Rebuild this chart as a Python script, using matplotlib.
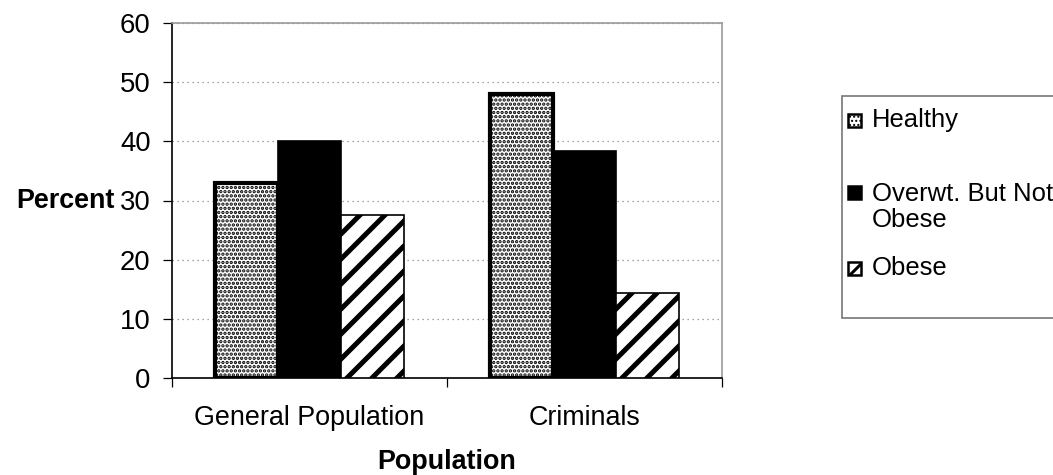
import matplotlib
matplotlib.use("Agg")
import matplotlib.pyplot as plt
from matplotlib.patches import Rectangle
import numpy as np

plt.rcParams['font.family'] = ['Liberation Sans', 'DejaVu Sans']

groups = ['General Population', 'Criminals']
series = ['Healthy', 'Overwt. But Not\nObese', 'Obese']
healthy = [33, 48]
overweight = [40, 38.3]
obese = [27.5, 14.3]
yticks = [0, 10, 20, 30, 40, 50, 60]

values = [healthy, overweight, obese]
hatches = ['......', None, '//']
faces = ['white', 'black', 'white']
edge_lw = [2.0, 0.8, 0.8]
hatch_lw = [1.1, 1.0, 2.4]

fig = plt.figure(figsize=(1053 / 150, 475 / 150), dpi=150)
ax = fig.add_axes([172 / 1053, 1 - 378 / 475, 550 / 1053, 355 / 475])

x = np.arange(len(groups))
w = 0.228
for i, vals in enumerate(values):
    plt.rcParams['hatch.linewidth'] = hatch_lw[i]
    bars = ax.bar(x + (i - 1) * w, vals, w, color=faces[i], edgecolor='black',
                  linewidth=edge_lw[i], hatch=hatches[i], zorder=3)
    for b in bars:
        if hasattr(b, 'set_hatch_linewidth'):
            b.set_hatch_linewidth(hatch_lw[i])

ax.set_xlim(-0.5, 1.5)
ax.set_ylim(0, 60)
ax.set_yticks(yticks)
ax.yaxis.grid(True, linestyle=(0, (1, 3)), color='#888888', linewidth=0.6)
ax.set_axisbelow(True)

# ticks at group boundaries, labels centred under groups
ax.set_xticks([-0.5, 0.5, 1.5])
ax.set_xticklabels([])
ax.set_xticks(x, minor=True)
ax.set_xticklabels(groups, minor=True, fontsize=12.9)
ax.tick_params(axis='x', which='minor', length=0, pad=13)
ax.tick_params(axis='x', which='major', direction='out', length=4.3, width=0.6)
ax.tick_params(axis='y', direction='out', length=4.3, width=0.6, pad=6, labelsize=13.2)

for s in ['top', 'right']:
    ax.spines[s].set_color('#999999')
    ax.spines[s].set_linewidth(0.8)
for s in ['left', 'bottom']:
    ax.spines[s].set_color('black')
    ax.spines[s].set_linewidth(0.8)

ax.set_ylabel('Percent', rotation=0, fontsize=12.9, fontweight='bold', ha='right', va='center')
ax.yaxis.set_label_coords(-0.104, 0.5)
ax.set_xlabel('Population', fontsize=12.9, fontweight='bold', va='center')
ax.xaxis.set_label_coords(0.5, -0.237)

# legend box, drawn by hand so the two-line entry matches the original
fw, fh = 1053, 475
fig.patches.append(Rectangle((842 / fw, 1 - 318 / fh), 1.0, 222 / fh, transform=fig.transFigure,
                             facecolor='white', edgecolor='#777777', linewidth=0.8))
rows = [120, 193, 268]
for i, yc in enumerate(rows):
    plt.rcParams['hatch.linewidth'] = hatch_lw[i] * 0.6
    h = Rectangle((848 / fw, 1 - (yc + 6.5) / fh), 13 / fw, 13 / fh, transform=fig.transFigure,
                  facecolor=faces[i], edgecolor='black', linewidth=1.2, hatch=hatches[i])
    fig.patches.append(h)
    if '\n' in series[i]:
        fig.text(872 / fw, 1 - (yc - 11) / fh, series[i], fontsize=12.3, va='top', ha='left',
                 linespacing=1.08)
    else:
        fig.text(872 / fw, 1 - yc / fh, series[i], fontsize=12.3, va='center', ha='left')

fig.savefig('out.png', dpi=150)
